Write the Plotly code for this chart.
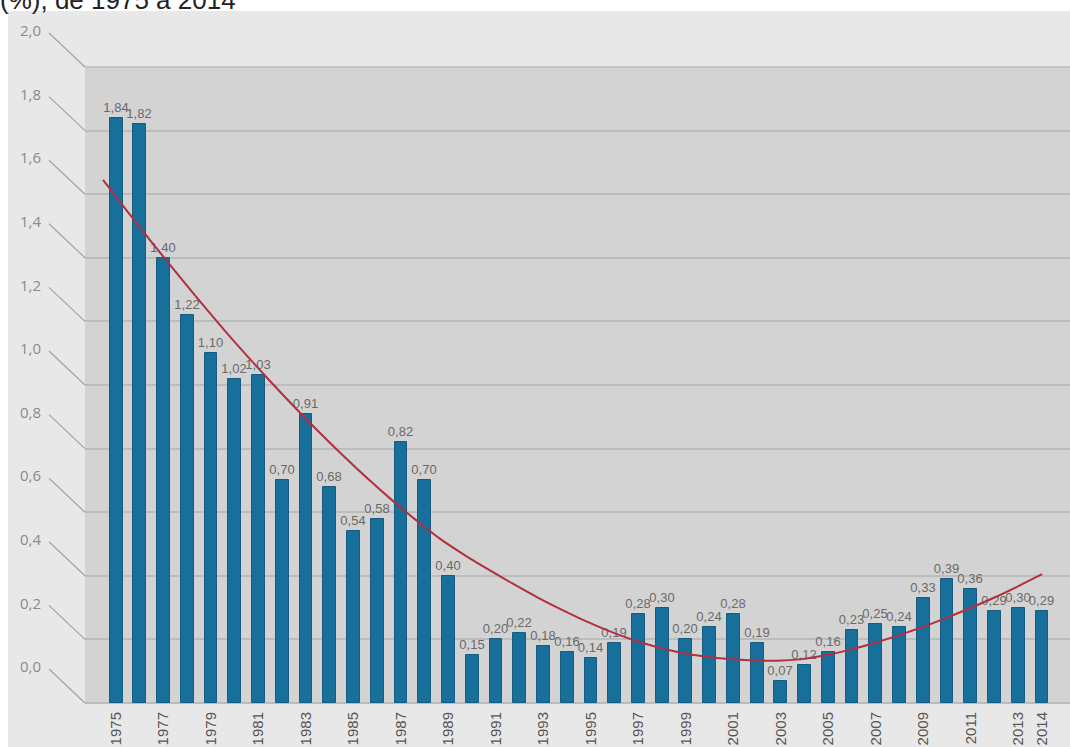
import plotly.graph_objects as go

years = list(range(1975, 2015))
values = [1.84, 1.82, 1.40, 1.22, 1.10, 1.02, 1.03, 0.70, 0.91, 0.68,
          0.54, 0.58, 0.82, 0.70, 0.40, 0.15, 0.20, 0.22, 0.18, 0.16,
          0.14, 0.19, 0.28, 0.30, 0.20, 0.24, 0.28, 0.19, 0.07, 0.12,
          0.16, 0.23, 0.25, 0.24, 0.33, 0.39, 0.36, 0.29, 0.30, 0.29]

trend_years = list(range(1975, 2015))
trend_values = [1.645, 1.547, 1.451, 1.357, 1.265, 1.176, 1.090, 1.007, 0.927, 0.850,
                0.776, 0.705, 0.638, 0.575, 0.516, 0.466, 0.420, 0.376, 0.334, 0.295,
                0.259, 0.227, 0.199, 0.176, 0.158, 0.146, 0.138, 0.134, 0.133, 0.138,
                0.150, 0.167, 0.188, 0.212, 0.238, 0.267, 0.298, 0.331, 0.367, 0.405]

xtick_years = list(range(1975, 2014, 2)) + [2014]
xtick_text = [str(y) for y in xtick_years]
Y_MAX = 2.0
ytick_vals = [round(i * 0.2, 1) for i in range(11)]

title_text = "(%), de 1975 a 2014"

COND = "Liberation Sans Narrow, Liberation Sans, Arial, sans-serif"

fig = go.Figure()
fig.add_trace(go.Bar(
    x=years, y=values, width=0.54,
    marker=dict(color="#17709b", line=dict(color="#145d80", width=1)),
    texttemplate="%{y:.2f}", textposition="outside", cliponaxis=False,
    constraintext="none",
    textfont=dict(family=COND, size=13, color="#6a6a6a"),
    showlegend=False,
))
fig.add_trace(go.Scatter(
    x=trend_years, y=trend_values, xaxis="x2", mode="lines",
    line=dict(color="#b1303f", width=2, shape="spline"),
    showlegend=False,
))

shapes = [
    # outer light panel
    dict(type="rect", xref="paper", yref="paper",
         xsizemode="pixel", ysizemode="pixel", xanchor=0, yanchor=0,
         x0=-77, x1=985, y0=-44, y1=692,
         fillcolor="#e8e8e8", line=dict(width=0), layer="below"),
    # back wall
    dict(type="rect", xref="paper", yref="paper", x0=0, x1=1, y0=0, y1=1,
         fillcolor="#d3d3d3", line=dict(width=0), layer="below"),
    # top edge of wall
    dict(type="line", xref="paper", yref="paper", x0=0, x1=1, y0=1, y1=1,
         line=dict(color="#bcbcbc", width=1.5), layer="below"),
]
for v in ytick_vals:
    shapes.append(dict(type="line", xref="paper", yref="y domain",
                       xsizemode="pixel", ysizemode="pixel", xanchor=0, yanchor=v / Y_MAX,
                       x0=-36, x1=0, y0=34, y1=0,
                       line=dict(color="#a3a3a3", width=1.2), layer="above"))

fig.update_layout(
    width=1070, height=747,
    margin=dict(l=85, r=0, t=67, b=44),
    paper_bgcolor="white", plot_bgcolor="#d3d3d3",
    separators=",.",
    bargap=0,
    shapes=shapes,
    xaxis=dict(range=[1973.69, 2015.18], tickmode="array", tickvals=xtick_years,
               ticktext=xtick_text, tickangle=-90, showgrid=False, zeroline=False,
               showline=False, ticks="", ticklabelstandoff=5,
               tickfont=dict(family=COND, size=15, color="#555555")),
    xaxis2=dict(range=[1974.25, 2015.16], overlaying="x", visible=False),
    yaxis=dict(range=[0, Y_MAX], tickmode="array", tickvals=ytick_vals, tickformat=".1f",
               showgrid=True, gridcolor="#bcbcbc", gridwidth=1.5,
               zeroline=True, zerolinecolor="#bcbcbc", zerolinewidth=1.5,
               showline=False, ticks="", ticklabelshift=-36, ticklabelstandoff=43,
               tickfont=dict(family="Open Sans, sans-serif", size=15, color="#8a8a8a")),
    annotations=[dict(text=title_text, xref="paper", yref="paper",
                      x=-0.0883, y=1.0786, xanchor="left", yanchor="bottom",
                      showarrow=False,
                      font=dict(family="Liberation Sans, Arial, sans-serif", size=26, color="#222222"))],
)

fig.write_html("out.html")
